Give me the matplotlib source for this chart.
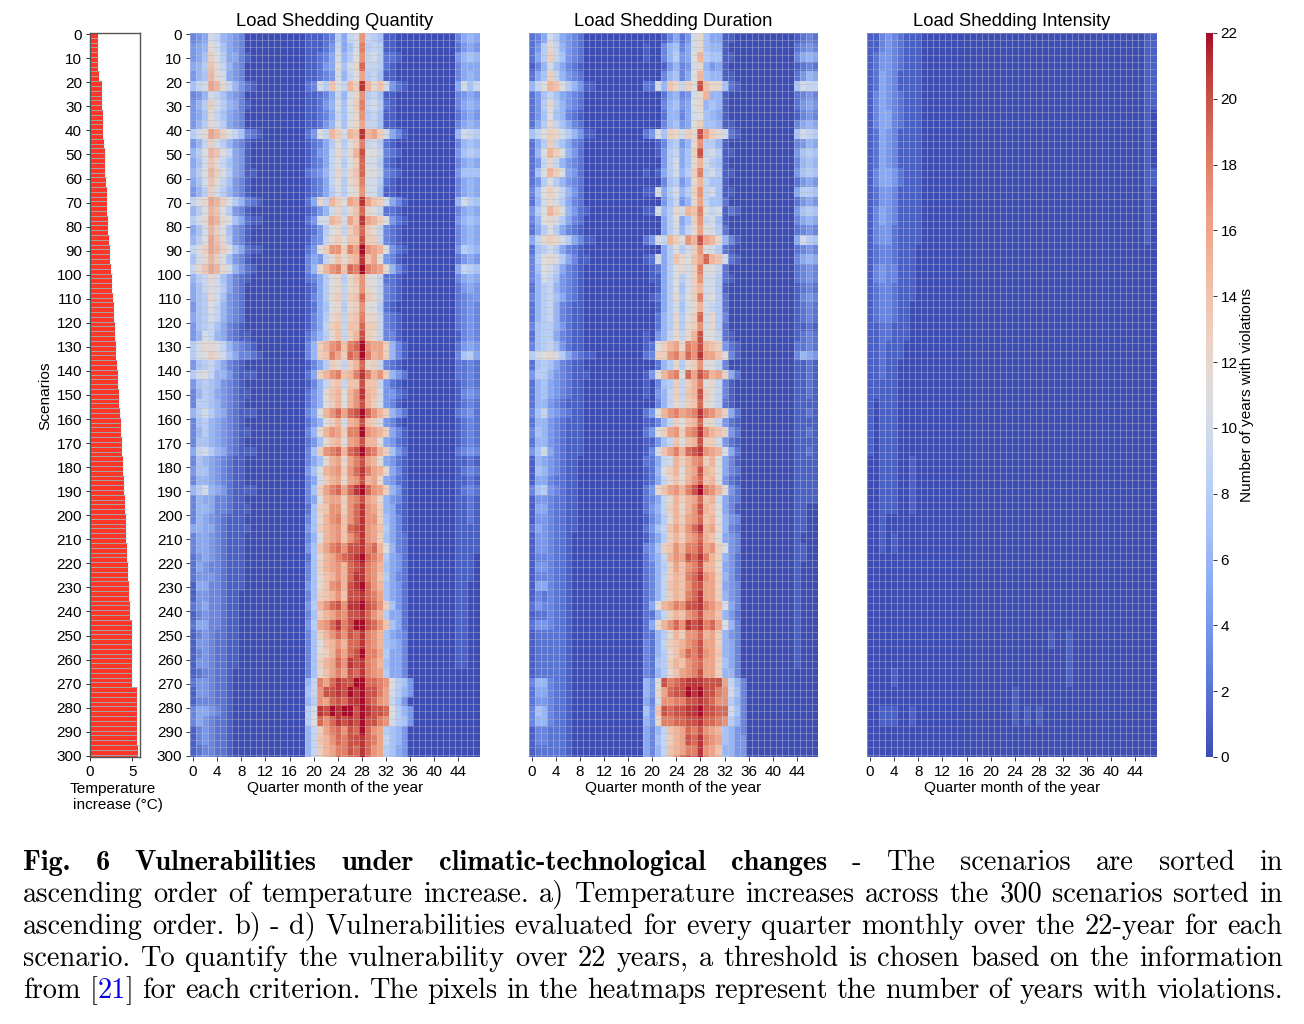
import numpy as np
import matplotlib
matplotlib.use("Agg")
import matplotlib.pyplot as plt
from matplotlib.colors import Normalize, ListedColormap

plt.rcParams['font.family'] = ['Liberation Sans', 'DejaVu Sans']

W, H = 1304, 1024
CODES = "0123456789abcdefghijklm"   # one character per cell: 0..22 years

# Estimated years with violations, one string per 4 scenarios, 48 quarter months
QUANTITY = [
"345a96543 0000000000 11123859ah9871 10000000000 3565",
"456ca7543 0000000000 11124957ai8981 10000000000 2454",
"457db8553 1000000000 11235a68bh9a82 21000000000 4676",
"568ec9643 0000000000 11245b7acj9982 10000000000 3555",
"467fca543 0000000000 11234a69bg8971 10000000000 3565",
"79agfc964 2100000000 23a8eb9fdlfcea 42100000000 5a79",
"346a97543 0000000000 1123596ach8971 10000000000 3454",
"468da8653 1000000000 11246a7bdi9a82 10000000000 3565",
"457c97543 0000000000 1123597ach8971 10000000000 2454",
"468ca8543 0000000000 11246a7bcg9971 10000000000 3565",
"8acgfdb97 3210000000 24b9fdafelfgda 53100000000 6a98",
"469da8643 1000000000 12358b8bdi9a82 10000000000 3676",
"68bfeb954 1000000000 12459c9cfkbb93 21000000000 4787",
"57aec9754 1000000000 12359b8bdjaa82 10000000000 3565",
"68bfdb854 1100000000 23469c9cejbb93 21000000000 4777",
"57aec9743 1000000000 12359b8cdiaa82 10000000000 3565",
"468da8643 1000000000 12358a8bchaa71 10000000000 3565",
"9bcgfdb86 3210000000 25c9fdbgflgeda 53100000000 6a87",
"68bfeb843 1000000000 1246ac9cejcb92 21000000000 3565",
"8acgfcb75 2110000000 24aafeagelgfdb 42100000000 4676",
"57afdb743 1000000000 1248bc9dfjdc93 21000000000 3565",
"68bgec843 1000000000 1349cdbeekdd93 21000000000 3565",
"9bdgfdb75 2110000000 24bdhhdigmhgfb 42100000000 4876",
"7acfdb743 1000000000 3549ceceflegb4 31000000000 2454",
"9cegfca64 2100000000 36cfhiejimihgc 63100000000 5987",
"689ca7532 1000000000 2358bc8cehbb92 21000000000 3565",
"579ba8532 0000000000 1258bc9cdhcb93 21000000000 2454",
"578ca7432 0000000000 1358cd9dejdc93 21000000000 2344",
"478b96432 0000000000 1257bc8cdhbb82 10000000000 2343",
"578a96432 0000000000 1358cd9deicc93 21000000000 2343",
"478975321 0000000000 1359de9eejdd93 21000000000 2343",
"46a965321 1000000000 2468ce9dfkdc93 31000000000 1343",
"8accb9643 2100000000 36dfhieijmhggd 63100000000 2454",
"8abdca753 3210000000 36deigdjimifgd 63100000000 3785",
"478975321 0000000000 1358dc9dfjcd93 21000000000 2232",
"8ab966421 1100000000 25dfhiefilifhd 64200000000 2232",
"478764321 0000000000 1369de9eekee94 21000000000 1232",
"368754321 1000000000 246cefbfhlfea4 42100000000 1343",
"388764321 0000000000 246bdfbfhkfda4 31000000000 1232",
"68a865321 1100000000 35bfhjgjkmjhfd 64200000000 2342",
"378654321 0000000000 246bdfafgkeda4 31000000000 1232",
"368654321 1000000000 36cfhgdiimhgfd 53100000000 1232",
"377654321 0000000000 247cefbghkffb5 42100000000 1232",
"59a865321 1100000000 37dhijfjkmjifd 74200000000 2343",
"376543211 0000000000 357cfgcgikgfb5 42100000000 1121",
"477543211 0000000000 47bfghdhjligfc 53100000000 1232",
"366543211 0000000000 35adfgcghkfgc5 42100000000 1121",
"68a654211 1100000000 37dgijgjlmjhgd 64100000000 1232",
"365533211 0000000000 35bfggdhikgfc6 43100000000 1121",
"366533211 1000000000 27dehhdhjlhgd6 52100000000 1121",
"365432111 0000000000 37cfhiehjlhhd7 53100000000 1121",
"565532111 1000000000 47dfghejklhge8 53100000000 1111",
"355432111 0000000000 36bfghehjlhgd7 53200000000 1111",
"355432111 0000000000 47egijhkklijfb 63200000000 1111",
"245432111 0000000000 27cfgijklmjig8 54200000000 1110",
"254332111 0000000000 37dfghfjklihf7 54200000000 1110",
"244432111 0000000000 37cefhfjllihe8 53200000000 1110",
"155332111 0000000000 47cehifklmjhf7 54200000000 1100",
"144332110 0000000000 37defhekkljig7 54200000000 1100",
"245332110 0000000000 48fhjkhllmkjhd 74200000000 1100",
"134332110 0000000000 37dfgihkkljhf8 55200000000 1100",
"255332110 0000000000 48ghjlikmmkjhe 75200000000 1100",
"134322110 0000000000 37dfhjhkjlihf7 54300000000 1100",
"144322110 0000000000 37befhfjjlihf7 65300000000 1100",
"134322110 0000000000 37cdfigjkmiig8 55300000000 1100",
"144322110 0000000000 37dfgjhlklihf7 55300000000 1100",
"123322100 0000000000 37cegigkjlihg8 55300000000 0000",
"244322100 0000000000 69igjlkkmmjjih b8740000000 0000",
"144322100 0000000000 79hkklkmlmkkig a8640000000 0000",
"133322100 0000000000 68hgjkjllmkjhg 97400000000 0000",
"355432100 0000000000 8alkmlmmkmlkkj b8640000000 0000",
"354322100 0000000000 8bjhjlklkmkkih a8740000000 0000",
"134322100 0000000000 69dgijhkjmjhg8 76400000000 0000",
"134322100 0000000000 69efhjikkljig9 76400000000 0000",
"123322100 0000000000 69dfgiikjljhg8 75400000000 0000",
"134322100 0000000000 69dfgjijjmjhg8 75400000000 0000",
]

DURATION = [
"235a85432 0000000000 00013524ac7551 10000000000 1232",
"248c96432 0000000000 10036735ac7661 00000000000 2343",
"258d97432 0000000000 10036845bf8771 10000000000 3565",
"136a75321 0000000000 00014634ac6451 00000000000 1232",
"257d96432 0000000000 00036735bf7661 10000000000 2465",
"69bfeb864 1100000000 22a6ec9dbkecc7 21000000000 7a99",
"247975432 0000000000 00025634acf661 00000000000 2343",
"248c86432 0000000000 00036745bc6761 00000000000 2454",
"247b76321 0000000000 00026635ab7651 00000000000 1343",
"258c97532 0000000000 00036745bd7761 10000000000 3565",
"79bdca864 1100000000 24a7dcadckgdca 21000000000 7a98",
"258d97532 0000000000 00137846ch8861 00000000000 3465",
"26bfdb642 0000000000 00148957dk9a81 10000000000 4787",
"249c96432 0000000000 00048a57cfa871 00000000000 3676",
"27bfdb542 0000000000 10158a68di9a81 10000000000 4787",
"248b86432 0000000000 00037846cf9771 00000000000 2454",
"37bdb9642 0000000000 11a58a68dh9a71 10000000000 5887",
"26aca8532 0000000000 00047946cg9772 00000000000 2454",
"48bfdb642 1000000000 11a68cafeib9a1 21000000000 4787",
"36bca8532 0000000000 00058b57dh9a71 00000000000 3565",
"258b85321 0000000000 00058a69cgba82 00000000000 2343",
"59cdca853 1100000000 24a9fdbhfkgfc6 31000000000 5a87",
"278a85321 0000000000 00058b8adhba82 10000000000 2343",
"38bca8531 1000000000 12a58ecbegjfea 21000000000 3565",
"37ba85321 0000000000 01258bcadibb92 00000000000 2343",
"36a974321 0000000000 01158b8adhaa82 10000000000 2343",
"268964321 0000000000 00158b7adfaa81 00000000000 1232",
"368975321 0000000000 01258c8bdiab82 00000000000 1343",
"268963211 0000000000 00158a7acfa982 00000000000 1232",
"268963211 0000000000 00268c8bdjac83 00000000000 1232",
"378864211 0000000000 00268c8cdhac82 00000000000 1121",
"278853211 0000000000 10469c9cfkbb92 10000000000 1232",
"378974211 0000000000 12bdfgcihkfed4 21000000000 2232",
"8abca8532 1100000000 23ddhifjhlggec 31000000000 3654",
"278753211 0000000000 00268c8cdhbb93 00000000000 1121",
"488643211 1000000000 14bfhibjgkifgd 52000000000 1121",
"267543211 0000000000 10378d9dfibc93 10000000000 1121",
"267543211 0000000000 10469d9efkdb93 10000000000 1121",
"266432111 0000000000 00369cadejcb92 10000000000 1111",
"379543211 0000000000 24bfhighilihfd 52000000000 1121",
"266432111 0000000000 11369dbefjcc94 21000000000 1111",
"376432111 0000000000 24bdghdhilhfed 42000000000 1121",
"266432111 0000000000 11479ebefkdda4 21000000000 1111",
"47a532111 0000000000 13aegifjklhgfb 52000000000 1121",
"165432110 0000000000 2259afdfhidfb5 31000000000 1111",
"176432110 0000000000 126bdfbfgkfeb5 32000000000 1111",
"155322110 0000000000 1259cecfhjefb4 21000000000 1111",
"378432110 0000000000 24ceghfikmihfc 42000000000 1111",
"144322110 0000000000 2359cfdfgjefa5 32000000000 1111",
"155322110 0000000000 2469dfcfhkfeb5 31000000000 1100",
"144322110 0000000000 1358cfdghjefb6 43000000000 1100",
"254322110 0000000000 2479egehjlfgc6 32000000000 1100",
"144322100 0000000000 1358dfdghjfeb5 43000000000 1000",
"144322100 0000000000 347dehfiikghdb 43000000000 1100",
"133322100 0000000000 2469fhgkjlifd6 42000000000 1100",
"144322100 0000000000 2368dgehikffc5 42000000000 1000",
"133322100 0000000000 2369dfeijlhgd6 42000000000 1000",
"155322100 0000000000 2369efehjkggd5 43000000000 1000",
"132322100 0000000000 2369dfeijlggd6 43000000000 1000",
"243322100 0000000000 25bfgihkklihfb 53000000000 1000",
"122322100 0000000000 2269dfehikgge6 42000000000 1000",
"244322100 0000000000 25cfhjhlklijgb 63000000000 1000",
"122222100 0000000000 2268cfdhhjfgd6 43000000000 1000",
"122222100 0000000000 3269defhikggd6 53000000000 1000",
"122222100 0000000000 3268cegjikhge6 53000000000 1000",
"122222100 0000000000 3278dfehijggd7 53000000000 1000",
"122222100 0000000000 3268ceghikggd6 63000000000 0000",
"366322100 0000000000 64bkijklllkkkg 96300000000 0000",
"255322100 0000000000 64cgjkkmlmkkih a7300000000 0000",
"244322100 0000000000 53ahhiikklkjhh 86300000000 0000",
"376322100 0000000000 74ekjkkllmkkjj a7300000000 0000",
"366322100 0000000000 64ciijjkkljjih 86300000000 0000",
"133222100 0000000000 5369efgjikhgf7 64300000000 0000",
"133222100 0000000000 5379dfgkjlihg7 64400000000 0000",
"122222100 0000000000 5369efgiilhge6 64400000000 0000",
"122222100 0000000000 5369ehjkjmigf7 64400000000 0000",
]

# Estimated years, one string per 8 scenarios
INTENSITY = [
"113432111 000000000000000000000000000000000000 011",
"124432111 000000000000000000000000000000000000 011",
"125431111 000000000000000000000000000000000000 011",
"135432111 000000000000000000000000000000000000 011",
"135532111 000000000000000000000000000000000000 010",
"125431111 000000000000000000000000000000000000 010",
"125431111 000000000000000000000000000000000000 010",
"135542111 000000000000000000000000000000000000 011",
"124431111 000000000000000000000000000000000000 010",
"135431111 000000000000000000000000000000000000 010",
"134421111 000000000000000000000000000000000000 010",
"123321110 000000000000000000000000000000000000 000",
"134331110 000000000000000000000000000000000000 000",
"123321110 000000000000000000000000000000000000 000",
"123321100 000000000000000000000000000000000000 000",
"112211100 000000000000000000000000000000000000 000",
"112111000 000000000000000000000000000000000000 000",
"112110000 000000000000000000000000000000000000 000",
"111110000 000000000000000000000000000000000000 000",
"101110000 000000000000000000000000000000000000 000",
"101110000 000000000000000000000000000000000000 000",
"101110000 000000000000000000000000000000000000 000",
"001110010 000000000000000000000000000000000000 000",
"001110010 000000000000000000000000000000000000 000",
"001110010 000000000000000000000000000000000000 000",
"001000000 000000000000000000000000000000000000 000",
"001010000 000000000000000000000000000000000000 000",
"000000000 000000000000000000000000000000000000 000",
"000000000 000000000000000000000000000000000000 000",
"000000000 000000000000000000000000000000000000 000",
"000000000 000000000000000000000000000000000000 000",
"000000000 000000000000000000000100100000000000 000",
"000000000 000000000000000000000000100000000000 000",
"000010000 000000000000000000000000100000000000 000",
"000000000 000000000000000100000000000000000000 000",
"001110010 000000000000000101010000000000000000 000",
"000000000 000000000000000000000000000000000000 000",
"000000000 000000000000000000000000000000000000 000",
]

# Estimated temperature increase (deg C), one value per 4 scenarios
TEMPERATURE = [1.00, 1.00, 1.02, 1.04, 1.06, 1.42, 1.42, 1.44, 1.52, 1.56,
               1.62, 1.64, 1.78, 1.80, 1.86, 1.94, 2.00, 2.06, 2.08, 2.14,
               2.20, 2.28, 2.36, 2.44, 2.50, 2.58, 2.66, 2.74, 2.80, 2.88,
               2.94, 3.00, 3.08, 3.14, 3.22, 3.30, 3.36, 3.42, 3.50, 3.56,
               3.62, 3.68, 3.76, 3.82, 3.90, 3.96, 4.02, 4.06, 4.12, 4.18,
               4.22, 4.26, 4.30, 4.38, 4.42, 4.50, 4.54, 4.60, 4.66, 4.70,
               4.72, 4.92, 4.94, 5.00, 5.02, 5.02, 5.02, 5.02, 5.52, 5.54,
               5.54, 5.56, 5.58, 5.60, 5.66, 5.70]

YTICKS = list(range(0, 301, 10))
XTICKS = list(range(0, 48, 4))
CBAR_TICKS = list(range(0, 23, 2))
TITLES = ["Load Shedding Quantity", "Load Shedding Duration", "Load Shedding Intensity"]


def decode(rows, repeat):
    out = []
    for row in rows:
        s = row.replace(" ", "")
        s = (s + s[-1] * 48)[:48]
        out.append([CODES.index(c) for c in s])
    return np.repeat(np.array(out, dtype=float), repeat, axis=0)[:301]


def box(x0, y0, x1, y1):
    return [x0 / W, 1 - y1 / H, (x1 - x0) / W, (y1 - y0) / H]


# coolwarm, slightly desaturated as in the printed figure
base = plt.get_cmap("coolwarm")(np.linspace(0, 1, 256))[:, :3]
luma = (base * [0.3, 0.59, 0.11]).sum(axis=1, keepdims=True)
cmap = ListedColormap(0.88 * base + 0.12 * luma)

fig = plt.figure(figsize=(W / 100, H / 100), dpi=100, facecolor="white")
norm = Normalize(0, 22)
TICK_FS = 11
LABEL_FS = 11.1

# Temperature bars
temp = np.repeat(np.array(TEMPERATURE), 4)[:301]
rows = np.arange(301)
ax = fig.add_axes(box(89.6, 33, 140.4, 757))
ax.barh(rows + 0.5, temp, height=1.0, color="#ff3326", linewidth=0)
ax.hlines(rows[::2], 0, temp[::2], color="#a8a0a0", linewidth=0.8)
ax.set_xlim(0, 5.95)
ax.set_ylim(301, 0)
ax.set_yticks(np.array(YTICKS) + 0.5, YTICKS)
ax.set_xticks([0, 5], ["0", "5"])
ax.tick_params(labelsize=TICK_FS, length=3, width=0.7, pad=2.5, color="#333333")
for s in ax.spines.values():
    s.set_color("#555555")
    s.set_linewidth(1.0)
fig.text(45 / W, 1 - 396 / H, "Scenarios", rotation=90, ha="center", va="center", fontsize=LABEL_FS)
fig.text(113 / W, 1 - 789 / H, "Temperature", ha="center", va="center", fontsize=LABEL_FS)
fig.text(117.5 / W, 1 - 805 / H, "increase (°C)", ha="center", va="center", fontsize=LABEL_FS)

# Heatmaps
mats = [decode(QUANTITY, 4), decode(DURATION, 4), decode(INTENSITY, 8)]
lefts = [190, 528.5, 867]
mesh = None
for i, (m, x0, title) in enumerate(zip(mats, lefts, TITLES)):
    ax = fig.add_axes(box(x0, 33, x0 + 289.5, 757))
    mesh = ax.pcolormesh(np.arange(49), np.arange(302), m, cmap=cmap, norm=norm,
                         linewidth=0, rasterized=True)
    ax.vlines(np.arange(49), 0, 301, color="#c9d2f0", linewidth=0.45, alpha=0.65)
    ax.hlines(np.arange(0, 302, 3), 0, 48, color="#b8b8b8", linewidth=0.45, alpha=0.65)
    ax.set_xlim(0, 48)
    ax.set_ylim(301, 0)
    ax.set_xticks(np.array(XTICKS) + 0.5, XTICKS)
    if i == 0:
        ax.set_yticks(np.array(YTICKS) + 0.5, YTICKS)
    else:
        ax.set_yticks([])
    ax.tick_params(labelsize=TICK_FS, length=3, width=0.7, pad=2.5, color="#333333")
    for s in ax.spines.values():
        s.set_visible(False)
    ax.set_xlabel("Quarter month of the year", fontsize=LABEL_FS, labelpad=2.0)
    ax.set_title(title, fontsize=13.2, pad=5.2)

# Colour bar
cax = fig.add_axes(box(1206, 33, 1213, 757))
cb = fig.colorbar(mesh, cax=cax)
cb.set_ticks(CBAR_TICKS)
cb.outline.set_visible(False)
cb.ax.tick_params(labelsize=TICK_FS, length=3, width=0.7, pad=2.5, color="#333333")
fig.text(1247 / W, 1 - 395 / H, "Number of years with violations", rotation=90,
         ha="center", va="center", fontsize=LABEL_FS)

# Caption, set word by word so the lines are justified
R, B = "cmr10", "cmb10"
FS = 20.4
lines = [
    [[("Fig.", B, "k")], [("6", B, "k")], [("Vulnerabilities", B, "k")], [("under", B, "k")],
     [("climatic-technological", B, "k")], [("changes", B, "k")], [("-", R, "k")], [("The", R, "k")],
     [("scenarios", R, "k")], [("are", R, "k")], [("sorted", R, "k")], [("in", R, "k")]],
    [[(w, R, "k")] for w in "ascending order of temperature increase. a) Temperature increases across the 300 scenarios sorted in".split()],
    [[(w, R, "k")] for w in "ascending order. b) - d) Vulnerabilities evaluated for every quarter monthly over the 22-year for each".split()],
    [[(w, R, "k")] for w in "scenario. To quantify the vulnerability over 22 years, a threshold is chosen based on the information".split()],
    [[("from", R, "k")], [("[", R, "k"), ("21", R, "#0000e0"), ("]", R, "k")]] +
    [[(w, R, "k")] for w in "for each criterion. The pixels in the heatmaps represent the number of years with violations.".split()],
]
baselines = [870, 902, 934, 966, 998]
renderer = fig.canvas.get_renderer()
X0, X1 = 23, 1283
for words, yb in zip(lines, baselines):
    placed = []
    total = 0
    for word in words:
        pieces = []
        for txt, fam, col in word:
            t = fig.text(0, 1 - yb / H, txt, family=fam, color=col, fontsize=FS, va="baseline", ha="left")
            w = t.get_window_extent(renderer).width if txt else 0
            pieces.append((t, w))
            total += w
        placed.append(pieces)
    gap = (X1 - X0 - total) / (len(placed) - 1)
    x = X0
    for pieces in placed:
        for t, w in pieces:
            t.set_x(x / W)
            x += w
        x += gap

fig.savefig("out.png", dpi=100, facecolor="white")
